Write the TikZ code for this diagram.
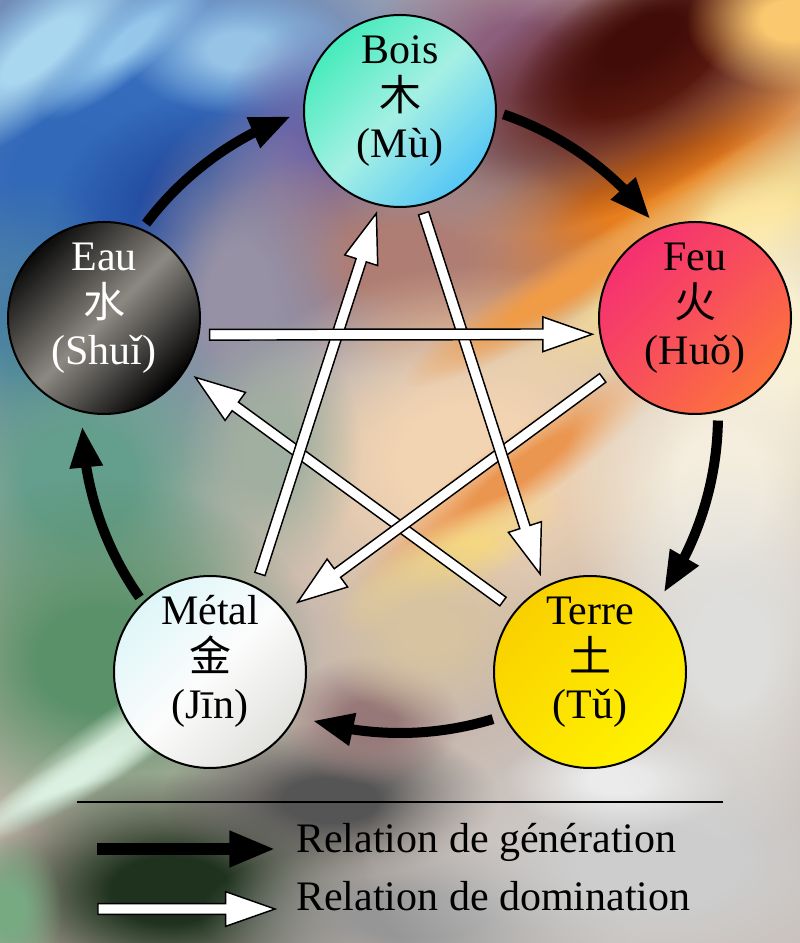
\documentclass[tikz,border=0pt]{standalone}
\usepackage{fontspec}
\setmainfont{Liberation Serif}
\newfontfamily\cjk{Noto Sans CJK SC}
\usetikzlibrary{calc,arrows.meta,bending,fadings}
\pgfdeclareradialshading{blobshade}{\pgfpointorigin}{color(0bp)=(white); color(7bp)=(white); color(16bp)=(gray); color(25bp)=(black); color(50bp)=(black)}
\pgfdeclarefading{blobfade}{\pgfuseshading{blobshade}}
\definecolor{boisA}{RGB}{70,235,188}
\definecolor{boisB}{RGB}{165,240,228}
\definecolor{boisC}{RGB}{85,198,245}
\definecolor{feuA}{RGB}{245,48,112}
\definecolor{feuB}{RGB}{248,80,90}
\definecolor{feuC}{RGB}{252,115,60}
\definecolor{terreA}{RGB}{250,208,0}
\definecolor{terreB}{RGB}{252,225,0}
\definecolor{terreC}{RGB}{255,242,0}
\definecolor{metalA}{RGB}{222,246,248}
\definecolor{metalB}{RGB}{252,252,252}
\definecolor{metalC}{RGB}{225,225,222}
\definecolor{eauA}{RGB}{10,10,10}
\definecolor{eauB}{RGB}{140,136,130}
\definecolor{eauC}{RGB}{0,0,0}
\definecolor{bgbase}{RGB}{200,185,175}
\newcommand\blob[6]{%
  \definecolor{blobc}{RGB}{#6}%
  \begin{scope}[transform canvas={shift={(#1,943-#2)},rotate=#5}]
    \fill[blobc, path fading=blobfade] (0,0) ellipse ({1.3*#3} and {1.3*#4});
  \end{scope}}
\newcommand\domarrow[2]{%
  \coordinate (dmP) at ($(#2)!37pt!(#1)$);
  \filldraw[domstyle] ($(#1)!4pt!90:(#2)$) -- ($(dmP)!4pt!90:(#2)$) -- ($(dmP)!13pt!90:(#2)$)
    -- (#2) -- ($(dmP)!13pt!-90:(#2)$) -- ($(dmP)!4pt!-90:(#2)$) -- ($(#1)!4pt!-90:(#2)$) -- cycle;}
\begin{document}
\begin{tikzpicture}[x=0.75pt,y=0.75pt,
  element/.style={circle, draw=black, line width=1.5pt, minimum size=144pt, inner sep=0pt,
    align=center, font=\fontsize{31.5pt}{35.25pt}\selectfont},
  genarrow/.style={line width=7.5pt, -{Triangle[length=31pt,width=23pt]}},
  domstyle/.style={fill=white, draw=black, line width=1.1pt, line join=miter},
  legendtext/.style={anchor=base west, inner sep=0pt, font=\fontsize{31.5pt}{36pt}\selectfont}]
\useasboundingbox (0,0) rectangle (800,943);
% background
\begin{scope}
\clip (0,0) rectangle (800,943);
\fill[bgbase] (0,0) rectangle (800,943);
\blob{150}{150}{300}{260}{0}{55,110,190}
\blob{60}{180}{120}{110}{0}{50,105,185}
\blob{190}{200}{110}{80}{20}{35,75,160}
\blob{40}{50}{130}{45}{40}{170,215,240}
\blob{130}{40}{90}{25}{40}{150,200,235}
\blob{240}{50}{90}{50}{0}{150,195,230}
\blob{300}{180}{70}{120}{0}{110,100,165}
\blob{30}{330}{80}{120}{0}{70,125,165}
\blob{520}{60}{120}{100}{0}{140,95,125}
\blob{640}{190}{250}{60}{30}{230,125,30}
\blob{650}{70}{200}{90}{30}{90,25,15}
\blob{640}{40}{110}{50}{30}{65,12,8}
\blob{790}{20}{80}{55}{0}{250,200,110}
\blob{710}{250}{220}{60}{32}{252,225,140}
\blob{770}{340}{100}{130}{0}{250,242,210}
\blob{400}{260}{170}{90}{0}{175,125,115}
\blob{240}{300}{90}{150}{0}{150,145,165}
\blob{470}{460}{200}{150}{0}{242,212,178}
\blob{520}{470}{160}{28}{36}{235,150,80}
\blob{560}{290}{140}{25}{31}{240,155,70}
\blob{720}{490}{120}{160}{0}{245,238,222}
\blob{80}{480}{150}{140}{0}{100,158,140}
\blob{270}{450}{70}{100}{0}{160,175,160}
\blob{450}{560}{100}{30}{30}{245,215,130}
\blob{100}{660}{170}{140}{0}{90,145,105}
\blob{120}{740}{130}{25}{35}{205,230,210}
\blob{70}{780}{100}{18}{30}{220,240,225}
\blob{170}{890}{160}{90}{0}{30,50,30}
\blob{10}{910}{40}{60}{0}{120,170,130}
\blob{330}{800}{130}{60}{0}{85,85,85}
\blob{420}{915}{170}{60}{0}{150,150,150}
\blob{660}{860}{230}{130}{0}{205,205,205}
\blob{620}{780}{90}{40}{0}{235,235,235}
\blob{730}{650}{110}{150}{0}{222,222,220}
\blob{370}{720}{70}{50}{0}{150,120,120}
\blob{430}{630}{90}{70}{0}{215,195,160}
\end{scope}
% elements
\node[element, top color=boisA, bottom color=boisC, middle color=boisB, shading angle=45] (bois) at (400,832)
  {\rule{0pt}{22pt}Bois\\{\cjk 木}\\(Mù)\rule[-22pt]{0pt}{22pt}};
\node[element, top color=feuA, bottom color=feuC, middle color=feuB, shading angle=45] (feu) at (695,625)
  {\rule{0pt}{22pt}Feu\\{\cjk 火}\\(Huǒ)\rule[-22pt]{0pt}{22pt}};
\node[element, top color=terreA, bottom color=terreC, middle color=terreB, shading angle=45] (terre) at (590,271)
  {\rule{0pt}{22pt}Terre\\{\cjk 土}\\(Tǔ)\rule[-22pt]{0pt}{22pt}};
\node[element, top color=metalA, bottom color=metalC, middle color=metalB, shading angle=45] (metal) at (210,271)
  {\rule{0pt}{22pt}Métal\\{\cjk 金}\\(Jīn)\rule[-22pt]{0pt}{22pt}};
\node[element, top color=eauA, bottom color=eauC, middle color=eauB, shading angle=45, text=white] (eau) at (104,625)
  {\rule{0pt}{22pt}Eau\\{\cjk 水}\\(Shuǐ)\rule[-22pt]{0pt}{22pt}};
% generation arcs
\coordinate (C) at (400,528);
\draw[genarrow] ([shift={(71:318)}]C) arc[start angle=71,end angle=38,radius=318];
\draw[genarrow] ([shift={(-1:318)}]C) arc[start angle=-1,end angle=-34,radius=318];
\draw[genarrow] ([shift={(-73:318)}]C) arc[start angle=-73,end angle=-106,radius=318];
\draw[genarrow] ([shift={(-145:318)}]C) arc[start angle=-145,end angle=-178,radius=318];
\draw[genarrow] ([shift={(143:318)}]C) arc[start angle=143,end angle=110,radius=318];
% domination arrows
\coordinate (te1) at ($(terre)+(141:112)$);
\coordinate (te2) at ($(eau)+(-33:109)$);
\coordinate (fm1) at ($(feu)+(213:110)$);
\coordinate (fm2) at ($(metal)+(38.5:112)$);
\coordinate (bt1) at ($(bois)+(283:105)$);
\coordinate (bt2) at ($(terre)+(117:110)$);
\coordinate (mb1) at ($(metal)+(63:110)$);
\coordinate (mb2) at ($(bois)+(257:105)$);
\coordinate (ef1) at ($(eau)+(-9:107)$);
\coordinate (ef2) at ($(feu)+(189:104)$);
\domarrow{te1}{te2}
\domarrow{fm1}{fm2}
\domarrow{bt1}{bt2}
\domarrow{mb1}{mb2}
\domarrow{ef1}{ef2}
% legend
\coordinate (sepL) at (77,141);
\coordinate (sepR) at (723,141);
\draw[line width=1.1pt] (sepL) -- (sepR);
\coordinate (lgA) at (97,94);
\coordinate (lgB) at (276,94);
\draw[line width=9.5pt, -{Triangle[length=35pt,width=25pt]}] (lgA) -- (lgB);
\coordinate (lwA) at (98,34);
\coordinate (lwB) at (275,34);
\domarrow{lwA}{lwB}
\node[legendtext] (lt1) at (296,90) {Relation de génération};
\node[legendtext] (lt2) at (296,32) {Relation de domination};
\end{tikzpicture}
\end{document}
